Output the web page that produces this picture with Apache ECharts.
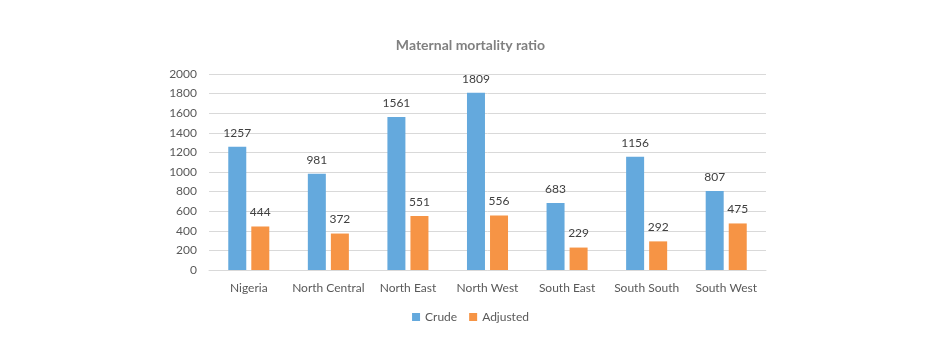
<!DOCTYPE html>
<html>
<head>
<meta charset="utf-8">
<script src="https://cdn.jsdelivr.net/npm/echarts@6/dist/echarts.min.js"></script>
<style>
    html, body { margin: 0; padding: 0; background: #fff; }
    #chart { width: 941px; height: 354px; }
</style>
</head>
<body>
<div id="chart"></div>
<script>
// 数据
var regions = ['Nigeria', 'North Central', 'North East', 'North West', 'South East', 'South South', 'South West'];
var crude = [1257, 981, 1561, 1809, 683, 1156, 807];
var adjusted = [444, 372, 551, 556, 229, 292, 475];

var myChart = echarts.init(document.getElementById('chart'));
var font = 'Lato, "Open Sans", sans-serif';

myChart.setOption({
    animation: false,
    color: ['#64A9DD', '#F69445'],
    textStyle: { fontFamily: font },
    title: {
        text: 'Maternal mortality ratio',
        left: 'center',
        top: 33,
        textStyle: { color: '#808080', fontSize: 14, fontWeight: 'bold', fontFamily: font }
    },
    legend: {
        bottom: 26,
        left: 'center',
        itemWidth: 8,
        itemHeight: 8,
        itemGap: 12,
        icon: 'rect',
        textStyle: { color: '#595959', fontSize: 12 },
        data: ['Crude', 'Adjusted']
    },
    grid: { left: 209, right: 175, top: 74, bottom: 84 },
    xAxis: {
        type: 'category',
        data: regions,
        axisTick: { show: false },
        axisLine: { lineStyle: { color: '#D9D9D9' } },
        axisLabel: { color: '#595959', fontSize: 12, margin: 12, interval: 0 }
    },
    yAxis: {
        type: 'value',
        min: 0,
        max: 2000,
        interval: 200,
        axisLine: { show: false },
        axisTick: { show: false },
        splitLine: { lineStyle: { color: '#D9D9D9' } },
        axisLabel: {
            color: '#595959', fontSize: 12, margin: 12,
            formatter: function (val) { return String(val); }
        }
    },
    series: [
        {
            name: 'Crude',
            type: 'bar',
            barWidth: 18,
            barGap: '28%',
            data: crude,
            label: { show: true, position: 'top', distance: 8, color: '#404040', fontSize: 12 }
        },
        {
            name: 'Adjusted',
            type: 'bar',
            barWidth: 18,
            data: adjusted,
            label: { show: true, position: 'top', distance: 8, color: '#404040', fontSize: 12 }
        }
    ]
});
</script>
</body>
</html>
